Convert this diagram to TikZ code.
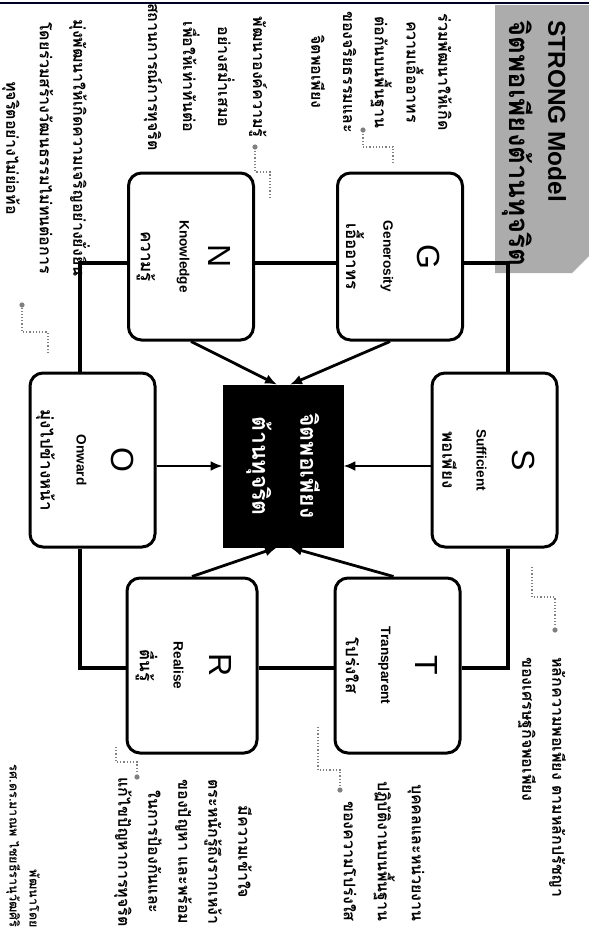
\documentclass[tikz,border=0pt]{standalone}
\usepackage{fontspec}
\setmainfont{Liberation Sans}
\newfontfamily\thai[Script=Thai]{Loma}
\usetikzlibrary{arrows.meta}
\begin{document}
\begin{tikzpicture}[x=0.5pt,y=-0.5pt,
  box/.style={draw=black, line width=1.5pt, rounded corners=6.5pt, minimum width=62.5pt, inner sep=0pt, fill=white},
  cbox/.style={fill=black, draw=black, minimum width=60pt, minimum height=81pt, inner sep=0pt},
  letter/.style={rotate=-90, font=\fontsize{16}{16}\selectfont, inner sep=0pt},
  eng/.style={rotate=-90, font=\bfseries\fontsize{6.8}{7}\selectfont, inner sep=0pt},
  thl/.style={rotate=-90, font=\thai\bfseries\fontsize{8.5}{9}\selectfont, inner sep=0pt},
  conn/.style={line width=1.6pt, line join=miter},
  arr/.style={line width=1.4pt, -{Latex[length=6pt,width=5pt]}},
  callout/.style={draw=gray, line width=0.6pt, densely dotted},
  dot/.style={circle, fill=gray, inner sep=0pt, minimum size=2.6pt},
  ann/.style={rotate=-90, inner sep=0pt, align=center}
]
\fill[white] (0,0) rectangle (589,949);
\useasboundingbox (0,0) rectangle (589,949);
% top border
\draw[line width=0.9pt, black!85!blue] (0,3) -- (589,3);
% title panel
\fill[gray!65] (495,5) -- (589,5) -- (589,256) -- (572,273) -- (495,273) -- cycle;
\node[rotate=-90, anchor=west, inner sep=0pt, font=\bfseries\fontsize{12.2}{13}\selectfont] (title1) at (557,20) {STRONG Model};
\node[rotate=-90, anchor=west, inner sep=0pt, font=\thai\bfseries\fontsize{13.8}{14}\selectfont] (title2) at (518,20) {จิตพอเพียงต้านทุจริต};

% boxes
\node[box, minimum height=83.5pt] (G) at (400,256.5) {};
\node[box, minimum height=83.5pt] (N) at (191,256.5) {};
\node[box, minimum height=87pt] (S) at (494.5,460) {};
\node[box, minimum height=87pt] (O) at (92.5,460) {};
\node[box, minimum height=87.5pt] (T) at (397.5,665.5) {};
\node[box, minimum height=87.5pt, minimum width=65pt] (R) at (192,665.5) {};
\node[cbox] (C) at (283,466) {};

% box labels
\node[letter] (Gl) at ([xshift=-17.5pt]G.east) {G};
\node[eng] (Ge) at ([xshift=-38.5pt]G.east) {Generosity};
\node[thl] (Gt) at ([xshift=-54.5pt]G.east) {เอื้ออาทร};
\node[letter] (Sl) at ([xshift=-17.5pt]S.east) {S};
\node[eng] (Se) at ([xshift=-38.5pt]S.east) {Sufficient};
\node[thl] (St) at ([xshift=-54.5pt]S.east) {พอเพียง};
\node[letter] (Tl) at ([xshift=-17.5pt]T.east) {T};
\node[eng] (Te) at ([xshift=-38.5pt]T.east) {Transparent};
\node[thl] (Tt) at ([xshift=-54.5pt]T.east) {โปร่งใส};
\node[letter] (Rl) at ([xshift=-19pt]R.east) {R};
\node[eng] (Re) at ([xshift=-40pt]R.east) {Realise};
\node[thl] (Rt) at ([xshift=-56pt]R.east) {ตื่นรู้};
\node[letter] (Ol) at ([xshift=-17pt]O.east) {O};
\node[eng] (Oe) at ([xshift=-37.5pt]O.east) {Onward};
\node[thl] (Ot) at ([xshift=-55.5pt]O.east) {มุ่งไปข้างหน้า};
\node[letter] (Nl) at ([xshift=-17.5pt]N.east) {N};
\node[eng] (Ne) at ([xshift=-36pt]N.east) {Knowledge};
\node[thl] (Nt) at ([xshift=-54.5pt]N.east) {ความรู้};
\node[ann, text=white, font=\thai\bfseries\fontsize{11.5}{24}\selectfont] (Ct) at (C) {จิตพอเพียง\\ต้านทุจริต};

% cycle connectors
\coordinate (gs) at (508,263);
\coordinate (st) at (508,668);
\coordinate (ro) at (80,668);
\coordinate (on) at (80,263);
\draw[conn] (G.east |- gs) -- (gs) -- (gs |- S.north);
\draw[conn] (S.south -| st) -- (st) -- (T.east |- st);
\draw[conn] (T.west |- st) -- (R.east |- st);
\draw[conn] (R.west |- ro) -- (ro) -- (O.south -| ro);
\draw[conn] (O.north -| on) -- (on) -- (N.west |- on);
\draw[conn] (N.east |- on) -- (G.west |- on);

% arrows into centre
\draw[arr] (S.west |- C.east) -- (C.east);
\draw[arr] (O.east |- C.west) -- (C.west);
\draw[arr] ([xshift=-5pt]G.south) -- ([xshift=3.5pt]C.north);
\draw[arr] (N.south) -- ([xshift=-3pt]C.north);
\draw[arr] ([xshift=-2pt]T.north) -- ([xshift=3.5pt]C.south);
\draw[arr] (R.north) -- ([xshift=-3pt]C.south);

% callouts
\node[dot] (d1) at (363,130) {};
\coordinate (e1) at (393,163);
\draw[callout] (e1) -- ++(0,-16) -| (d1);
\node[dot] (d2) at (255,147) {};
\coordinate (e2) at (270,198);
\draw[callout] (e2) -- ++(0,-26) -| (d2);
\node[dot] (d3) at (22,305) {};
\coordinate (e3) at (48,353);
\draw[callout] (e3) -- ++(0,-21) -| (d3);
\node[dot] (d4) at (555,630) {};
\coordinate (e4) at (532,567);
\draw[callout] (e4) -- ++(0,30) -| (d4);
\node[dot] (d5) at (340,790) {};
\coordinate (e5) at (318,727);
\draw[callout] (e5) -- ++(0,43) -| (d5);
\node[dot] (d6) at (137,777) {};
\coordinate (e6) at (116,747);
\draw[callout] (e6) -- ++(0,15) -| (d6);

% annotations
\node[ann, font=\thai\bfseries\fontsize{8}{15.9}\selectfont] (A1) at (381.5,72)
  {ร่วมพัฒนาให้เกิด\\ความเอื้ออาทร\\ต่อกันบนพื้นฐาน\\ของจริยธรรมและ\\จิตพอเพียง};
\node[ann, font=\thai\bfseries\fontsize{8}{17.5}\selectfont] (A2) at (205.5,77)
  {พัฒนาองค์ความรู้\\อย่างสม่ำเสมอ\\เพื่อให้เท่าทันต่อ\\สถานการณ์การทุจริต};
\node[ann, font=\thai\bfseries\fontsize{8}{16.75}\selectfont] (A3) at (46,148)
  {มุ่งพัฒนาให้เกิดความเจริญอย่างยั่งยืน\\โดยร่วมสร้างวัฒนธรรมไม่ทนต่อการ\\ทุจริตอย่างไม่ย่อท้อ};
\node[ann, anchor=west, align=left, font=\thai\bfseries\fontsize{8}{15}\selectfont] (A4) at (542,657)
  {หลักความพอเพียง ตามหลักปรัชญา\\ของเศรษฐกิจพอเพียง};
\node[ann, anchor=east, align=right, font=\thai\bfseries\fontsize{8}{17}\selectfont] (A5) at (384,922)
  {บุคคลและหน่วยงาน\\ปฏิบัติงานบนพื้นฐาน\\ของความโปร่งใส};
\node[ann, font=\thai\bfseries\fontsize{8}{15}\selectfont] (A6) at (183,852)
  {มีความเข้าใจ\\ตระหนักรู้ถึงรากเหง้า\\ของปัญหา และพร้อม\\ในการป้องกันและ\\แก้ไขปัญหาการทุจริต};
\node[ann, anchor=east, align=right, font=\thai\bfseries\fontsize{6.3}{10}\selectfont] (credit) at (23,928)
  {พัฒนาโดย\\รศ.ดร.มาณพ ไชยธีรานุวัฒศิริ};
\end{tikzpicture}
\end{document}
